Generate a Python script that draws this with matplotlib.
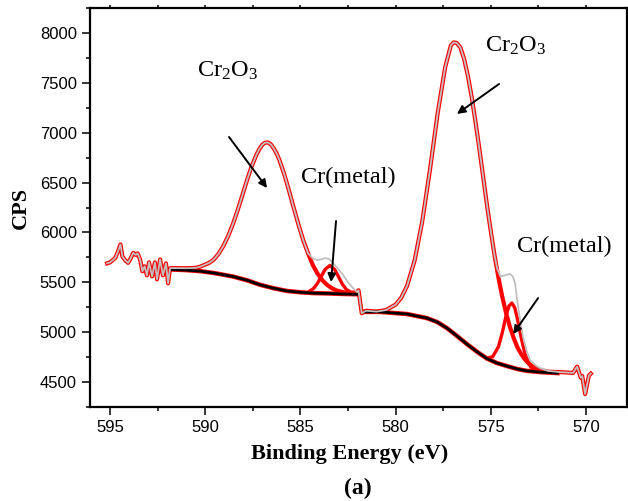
import matplotlib
matplotlib.use("Agg")
import matplotlib.pyplot as plt
from matplotlib.ticker import MultipleLocator

plt.rcParams['mathtext.default'] = 'regular'

# noisy ends of the spectrum (shared by the raw data and the envelope)
left_x = [595.15, 595.0, 594.84, 594.72, 594.6, 594.45, 594.35, 594.2, 594.05, 593.9,
          593.78, 593.65, 593.55, 593.42, 593.3, 593.18, 593.06, 592.95, 592.79, 592.64,
          592.53, 592.37, 592.22, 592.06, 591.95, 591.85, 591.74]
left_y = [5690, 5700, 5725, 5745, 5800, 5880, 5760, 5720, 5695, 5745,
          5795, 5775, 5790, 5730, 5610, 5660, 5570, 5700, 5560, 5700,
          5530, 5730, 5570, 5690, 5490, 5640, 5643]
right_x = [570.68, 570.47, 570.28, 570.2, 570.05, 569.85, 569.75]
right_y = [4592, 4655, 4545, 4560, 4380, 4565, 4585]

# raw spectrum (grey) between the noisy ends
raw_x = [591.0, 590.5, 590.27, 589.8, 589.55, 589.3, 589.05, 588.8, 588.55, 588.3, 588.05,
         587.8, 587.55, 587.3, 587.15, 587.0, 586.85, 586.7, 586.55, 586.4, 586.25, 586.1,
         585.85, 585.6, 585.35, 585.1, 584.85, 584.6,
         584.35, 584.13, 583.9, 583.71, 583.5, 583.29, 583.0, 582.76, 582.5, 582.29, 582.03,
         581.95, 581.78, 581.55,
         581.0, 580.5, 580.0, 579.7, 579.4, 579.0, 578.6, 578.2, 577.8, 577.4, 577.1, 576.95,
         576.8, 576.6, 576.4, 576.2, 576.0, 575.8, 575.6, 575.4, 575.2, 575.0, 574.8,
         574.67, 574.5, 574.25, 574.0, 573.85, 573.73, 573.57, 573.31, 573.1, 572.94,
         572.6, 572.42, 572.0, 571.4]
raw_y = [5641, 5645, 5656, 5694, 5728, 5785, 5863, 5962, 6081, 6220, 6372,
         6527, 6668, 6784, 6837, 6880, 6900, 6902, 6882, 6842, 6792, 6724,
         6584, 6419, 6246, 6077, 5921, 5790,
         5740, 5723, 5730, 5743, 5735, 5693, 5630, 5573, 5500, 5453, 5402,
         5420, 5190, 5215,
         5206, 5222, 5277, 5347, 5464, 5721, 6113, 6624, 7185, 7655, 7874, 7905,
         7900, 7855, 7737, 7563, 7351, 7101, 6834, 6552, 6270, 6009, 5763,
         5640, 5560, 5570, 5585, 5560, 5493, 5252, 4951, 4800, 4720,
         4660, 4640, 4612, 4600]

# Cr2O3 envelope (red outline) between the noisy ends
env_x = [591.0, 590.5, 590.27, 589.8, 589.55, 589.3, 589.05, 588.8, 588.55, 588.3, 588.05,
         587.8, 587.55, 587.3, 587.15, 587.0, 586.85, 586.7, 586.55, 586.4, 586.25, 586.1,
         585.85, 585.6, 585.35, 585.1, 584.85, 584.6, 584.35, 584.1, 583.85, 583.6,
         583.35, 583.1, 582.6, 582.03,
         581.95, 581.78, 581.55,
         581.0, 580.5, 580.0, 579.7, 579.4, 579.0, 578.6, 578.2, 577.8, 577.4, 577.1, 576.95,
         576.8, 576.6, 576.4, 576.2, 576.0, 575.8, 575.6, 575.4, 575.2, 575.0, 574.8,
         574.6, 574.4, 574.2, 574.0, 573.8, 573.6, 573.4, 573.2, 573.0, 572.8,
         572.4, 572.0, 571.4]
env_y = [5641, 5645, 5656, 5694, 5728, 5785, 5863, 5962, 6081, 6220, 6372,
         6527, 6668, 6784, 6837, 6880, 6900, 6902, 6882, 6842, 6792, 6724,
         6584, 6419, 6246, 6077, 5921, 5790, 5673, 5587, 5521, 5474,
         5441, 5418, 5393, 5400,
         5420, 5190, 5215,
         5206, 5222, 5277, 5347, 5464, 5721, 6113, 6624, 7185, 7655, 7874, 7905,
         7900, 7855, 7737, 7563, 7351, 7101, 6834, 6552, 6270, 6009, 5763,
         5546, 5355, 5192, 5054, 4941, 4847, 4779, 4725, 4684, 4657,
         4621, 4604, 4600]

# Cr(metal) components
m1_x = [584.6, 584.3, 584.1, 583.9, 583.7, 583.45, 583.2, 583.0, 582.8, 582.6, 582.3]
m1_y = [5400, 5440, 5491, 5561, 5630, 5669, 5628, 5556, 5482, 5430, 5393]
m2_x = [575.2, 574.9, 574.6, 574.4, 574.2, 574.05, 573.9, 573.75, 573.6, 573.4, 573.2, 572.9, 572.6]
m2_y = [4740, 4755, 4855, 4995, 5165, 5262, 5292, 5248, 5130, 4940, 4778, 4648, 4607]

# background
bg1_x = [591.74, 591.0, 590.27, 589.5, 588.54, 587.8, 587.12, 586.4, 585.7, 585.0,
         584.34, 583.5, 582.76, 582.03]
bg1_y = [5628, 5622, 5612, 5592, 5558, 5520, 5475, 5440, 5413, 5400,
         5392, 5388, 5383, 5380]
bg2_x = [581.6, 580.82, 579.4, 578.35, 577.8, 577.3, 576.8, 576.25, 575.7, 575.2,
         574.7, 574.15, 573.6, 573.1, 572.42, 571.5]
bg2_y = [5203, 5203, 5182, 5141, 5100, 5040, 4965, 4880, 4800, 4735,
         4692, 4660, 4630, 4612, 4600, 4590]

labels = [r'Cr$_2$O$_3$', 'Cr(metal)', r'Cr$_2$O$_3$', 'Cr(metal)']
label_pos = [(590.43, 7559), (584.97, 6495), (575.3, 7809), (573.62, 5803)]
arrow_tail = [(588.75, 6957), (583.13, 6114), (574.57, 7488), (572.52, 5342)]
arrow_tip = [(586.75, 6445), (583.39, 5503), (576.78, 7188), (573.83, 4981)]

fig = plt.figure(figsize=(6.28, 5.01), dpi=100)
ax = fig.add_axes([90/628, 1-407/501, 537/628, 399/501])

env_all_x = left_x + env_x + right_x
env_all_y = left_y + env_y + right_y
raw_all_x = left_x + raw_x + right_x
raw_all_y = left_y + raw_y + right_y

ax.plot(env_all_x, env_all_y, color='red', lw=3.0, zorder=2)
ax.plot(bg1_x, bg1_y, color='red', lw=3.2, zorder=2)
ax.plot(bg2_x, bg2_y, color='red', lw=3.2, zorder=2)
ax.plot(m1_x, m1_y, color='red', lw=2.4, zorder=3)
ax.plot(m2_x, m2_y, color='red', lw=2.4, zorder=3)
ax.plot(bg1_x, bg1_y, color='black', lw=2.0, zorder=4)
ax.plot(bg2_x, bg2_y, color='black', lw=2.0, zorder=4)
ax.plot(raw_all_x, raw_all_y, color='#c0c0c0', lw=1.3, zorder=5)

for s, (x, y) in zip(labels, label_pos):
    ax.text(x, y, s, ha='left', va='baseline', fontsize=17.5, family='Liberation Serif')
for tail, tip in zip(arrow_tail, arrow_tip):
    ax.annotate('', xy=tip, xytext=tail,
                arrowprops=dict(arrowstyle='-|>', color='k', lw=1.4,
                                mutation_scale=12, shrinkA=0, shrinkB=0), zorder=6)

ax.set_xlim(596.05, 567.85)
ax.set_ylim(4250, 8250)
ax.xaxis.set_major_locator(MultipleLocator(5))
ax.xaxis.set_minor_locator(MultipleLocator(2.5))
ax.yaxis.set_major_locator(MultipleLocator(500))
ax.yaxis.set_minor_locator(MultipleLocator(250))
for sp in ax.spines.values():
    sp.set_linewidth(1.6)
ax.tick_params(which='major', direction='out', length=5.5, width=1.1, labelsize=12, pad=4)
ax.tick_params(which='minor', direction='out', length=2.7, width=1.1)
ax.tick_params(which='both', top=True, right=True)
for lab in ax.get_xticklabels() + ax.get_yticklabels():
    lab.set_family('Liberation Sans')
# short ticks on the top and right spines
for t in ax.xaxis.get_major_ticks() + ax.xaxis.get_minor_ticks():
    t.tick2line.set_markersize(2.5)
for t in ax.yaxis.get_major_ticks() + ax.yaxis.get_minor_ticks():
    t.tick2line.set_markersize(2.5)

fig.text(350/628, 1-459/501, 'Binding Energy (eV)', ha='center', va='baseline',
         fontsize=16, fontweight='bold', family='Liberation Serif')
fig.text(20.5/628, 1-208/501, 'CPS', ha='center', va='center', rotation=90,
         fontsize=16, fontweight='bold', family='Liberation Serif')
fig.text(358/628, 1-494/501, '(a)', ha='center', va='baseline',
         fontsize=17, fontweight='bold', family='Liberation Serif')

fig.savefig('out.png', dpi=100)
